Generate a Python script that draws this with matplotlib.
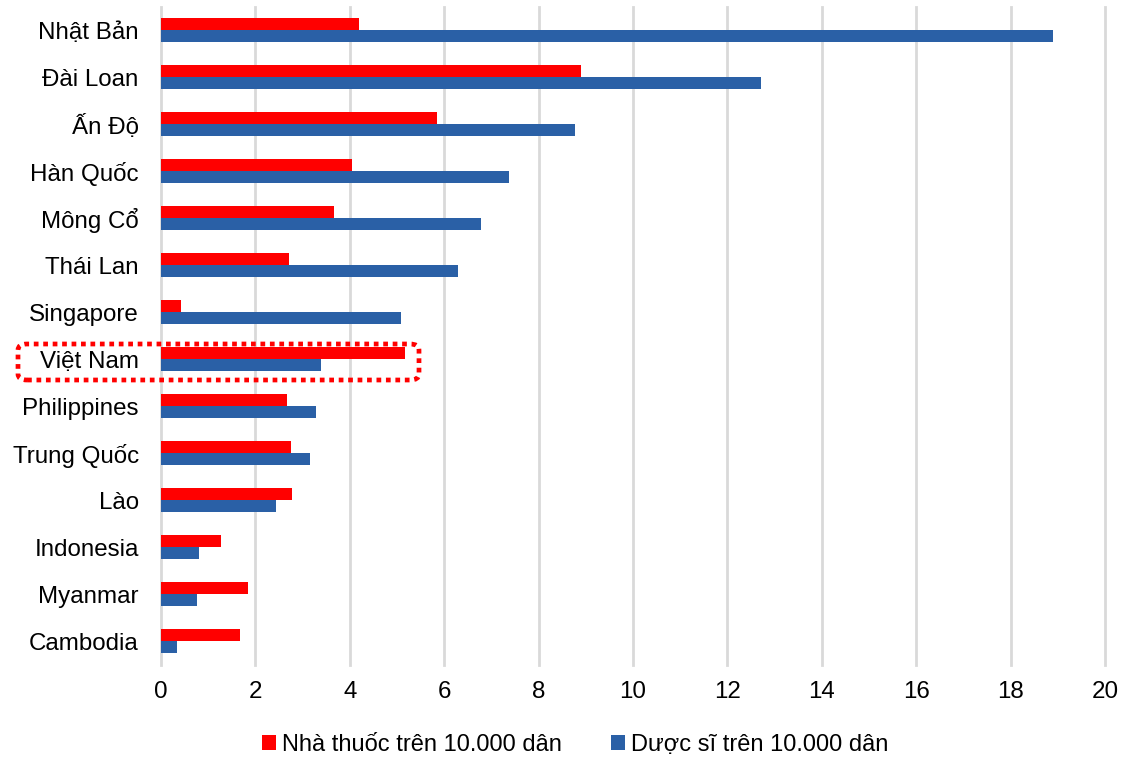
import matplotlib.pyplot as plt
from matplotlib.patches import FancyBboxPatch
import numpy as np

plt.rcParams['font.family'] = ['Liberation Sans', 'DejaVu Sans']

countries = ['Nhật Bản', 'Đài Loan', 'Ấn Độ', 'Hàn Quốc', 'Mông Cổ', 'Thái Lan',
             'Singapore', 'Việt Nam', 'Philippines', 'Trung Quốc', 'Lào',
             'Indonesia', 'Myanmar', 'Cambodia']
pharmacies = [4.19, 8.89, 5.84, 4.05, 3.67, 2.71, 0.42, 5.16, 2.66, 2.76, 2.77,
              1.27, 1.84, 1.68]
pharmacists = [18.9, 12.72, 8.78, 7.37, 6.79, 6.30, 5.08, 3.38, 3.29, 3.15, 2.44,
               0.80, 0.76, 0.33]
xticks = [0, 2, 4, 6, 8, 10, 12, 14, 16, 18, 20]

red = '#FF0000'
blue = '#2A60A6'

fig = plt.figure(figsize=(11.32, 7.58), dpi=100)
ax = fig.add_axes([0.1422, 0.1233, 0.8339, 0.8681])

y = np.arange(len(countries))
h = 0.26
ax.barh(y - h / 2, pharmacies, height=h, color=red, label='Nhà thuốc trên 10.000 dân', zorder=3)
ax.barh(y + h / 2, pharmacists, height=h, color=blue, label='Dược sĩ trên 10.000 dân', zorder=3)

ax.set_ylim(len(countries) - 0.5, -0.5)
ax.set_xlim(0, 20)
ax.set_xticks(xticks)
ax.set_yticks(y)
ax.set_yticklabels(countries)
ax.tick_params(axis='both', length=0, labelsize=17.4, colors='#000000')
ax.tick_params(axis='y', pad=16)
ax.tick_params(axis='x', pad=12)
ax.grid(axis='x', color='#D9D9D9', linewidth=2, zorder=0)
for line in ax.get_xgridlines():
    line.set_clip_on(False)
for s in ax.spines.values():
    s.set_visible(False)

# highlight box round Việt Nam
box = FancyBboxPatch((18 / 1132, 1 - 380 / 758), (419 - 18) / 1132, (380 - 344) / 758,
                     boxstyle='round,pad=0,rounding_size=0.008', transform=fig.transFigure,
                     fill=False, edgecolor=red, linewidth=3.4, linestyle=(0, (1, 1)),
                     zorder=5)
box.set_capstyle('butt')
fig.patches.append(box)

fig.legend(loc='center', bbox_to_anchor=(0.508, 1 - 745 / 758), ncol=2, frameon=False,
           fontsize=17, handlelength=0.6, handleheight=0.6, handletextpad=0.25,
           columnspacing=2.1)

fig.savefig('out.png', dpi=100)
